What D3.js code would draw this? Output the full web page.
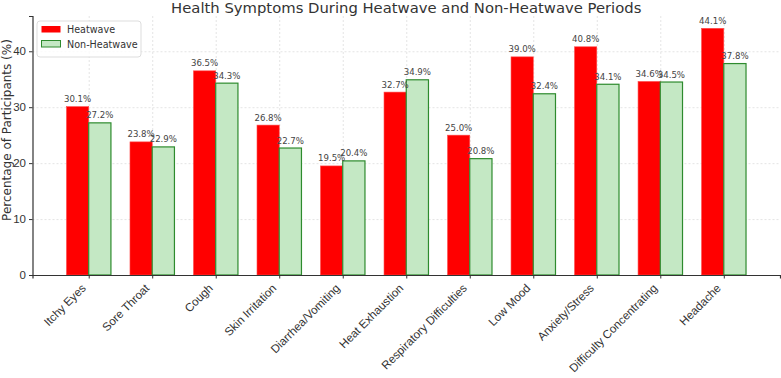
<!DOCTYPE html>
<html>
<head>
<meta charset="utf-8">
<script src="https://cdn.jsdelivr.net/npm/d3@7"></script>
<style>
  body { margin: 0; background: #fff; }
  svg { font-family: "DejaVu Sans", sans-serif; }
  .grid line { stroke: #ddd; stroke-dasharray: 2,2; stroke-width: 0.8; }
  .grid path { display: none; }
</style>
</head>
<body>
<div id="main"></div>
<script>
var symptoms = ["Itchy Eyes", "Sore Throat", "Cough", "Skin Irritation", "Diarrhea/Vomiting",
  "Heat Exhaustion", "Respiratory Difficulties", "Low Mood", "Anxiety/Stress",
  "Difficulty Concentrating", "Headache"]
var heatwave = [30.1, 23.8, 36.5, 26.8, 19.5, 32.7, 25.0, 39.0, 40.8, 34.6, 44.1]
var nonHeatwave = [27.2, 22.9, 34.3, 22.7, 20.4, 34.9, 20.8, 32.4, 34.1, 34.5, 37.8]
var yTicks = [0, 10, 20, 30, 40]

var w = 781, h = 378
var margin = { top: 16, left: 32.5, right: 1, bottom: 103 }
var iw = w - margin.left - margin.right,
	ih = h - margin.top - margin.bottom

var svg = d3.select("#main").append("svg")
	.attr("width", w)
	.attr("height", h)

var g = svg.append("g")
	.attr("transform", "translate(" + margin.left + "," + margin.top + ")")

// bars sit at integer positions, width 0.35 each, like matplotlib
var bw = 0.35
var x = d3.scaleLinear()
	.domain([-bw - 0.535, symptoms.length - 1 + bw + 0.535])
	.range([0, iw])
var ymax = d3.max(heatwave.concat(nonHeatwave)) * 1.05
var y = d3.scaleLinear().domain([0, ymax]).range([ih, 0])

// grid
g.append("g").attr("class", "grid")
	.call(d3.axisLeft(y).tickValues(yTicks).tickSize(-iw).tickFormat(""))
g.append("g").attr("class", "grid")
	.call(d3.axisBottom(x).tickValues(d3.range(symptoms.length)).tickSize(ih).tickFormat(""))

// bars
g.selectAll(".hw").data(heatwave).enter().append("rect")
	.attr("class", "hw")
	.attr("x", function(d, i) { return x(i - bw) })
	.attr("width", x(bw) - x(0))
	.attr("y", function(d) { return y(d) })
	.attr("height", function(d) { return ih - y(d) })
	.attr("fill", "#ff0000")
	.attr("stroke", "#ff4a4a")
	.attr("stroke-width", 0.6)

g.selectAll(".nhw").data(nonHeatwave).enter().append("rect")
	.attr("class", "nhw")
	.attr("x", function(d, i) { return x(i) })
	.attr("width", x(bw) - x(0))
	.attr("y", function(d) { return y(d) })
	.attr("height", function(d) { return ih - y(d) })
	.attr("fill", "#c4e8c4")
	.attr("stroke", "#2e8b2e")
	.attr("stroke-width", 1.2)

// value labels
function labels(data, off) {
	g.selectAll(null).data(data).enter().append("text")
		.attr("x", function(d, i) { return x(i + off) })
		.attr("y", function(d) { return y(d) - 4.5 })
		.attr("text-anchor", "middle")
		.attr("font-size", "8.6px")
		.attr("fill", "#444")
		.text(function(d) { return d.toFixed(1) + "%" })
}
labels(heatwave, -bw / 2)
labels(nonHeatwave, bw / 2)

// axes
var yAxis = g.append("g")
	.call(d3.axisLeft(y).tickValues(yTicks).tickSize(3.5).tickPadding(3))
yAxis.select(".domain").attr("stroke", "#333").attr("stroke-width", 1.2)
yAxis.selectAll(".tick line").attr("stroke", "#333")
yAxis.selectAll("text").attr("font-size", "11.5px").attr("fill", "#333")

var xAxis = g.append("g")
	.attr("transform", "translate(0," + ih + ")")
	.call(d3.axisBottom(x).tickValues(d3.range(symptoms.length)).tickSize(3.5)
		.tickFormat(function(d) { return symptoms[d] }))
xAxis.select(".domain").attr("stroke", "#333").attr("stroke-width", 1.2)
xAxis.selectAll(".tick line").attr("stroke", "#333")
xAxis.selectAll("text")
	.attr("font-size", "11.6px")
	.attr("fill", "#333")
	.attr("text-anchor", "end")
	.attr("y", 0)
	.attr("dy", "0.35em")
	.attr("transform", "translate(-5.5,11) rotate(-45)")

// title and y label
svg.append("text")
	.attr("x", margin.left + iw / 2)
	.attr("y", 12.5)
	.attr("text-anchor", "middle")
	.attr("font-size", "14.8px")
	.attr("fill", "#333")
	.text("Health Symptoms During Heatwave and Non-Heatwave Periods")

svg.append("text")
	.attr("transform", "translate(10.5,130) rotate(-90)")
	.attr("text-anchor", "middle")
	.attr("font-size", "12px")
	.attr("fill", "#333")
	.text("Percentage of Participants (%)")

// legend
var leg = svg.append("g").attr("transform", "translate(37,21)")
leg.append("rect")
	.attr("width", 104).attr("height", 36).attr("rx", 3)
	.attr("fill", "#fff").attr("fill-opacity", 0.8)
	.attr("stroke", "#ddd")
var items = [
	{ name: "Heatwave", fill: "#ff0000", stroke: "none" },
	{ name: "Non-Heatwave", fill: "#c4e8c4", stroke: "#2e8b2e" }
]
items.forEach(function(it, i) {
	leg.append("rect")
		.attr("x", 4.5).attr("y", 5 + i * 14.5)
		.attr("width", 19).attr("height", 6.5)
		.attr("fill", it.fill).attr("stroke", it.stroke)
	leg.append("text")
		.attr("x", 30).attr("y", 12 + i * 14.5)
		.attr("font-size", "9.6px")
		.attr("fill", "#333")
		.text(it.name)
})
</script>
</body>
</html>
